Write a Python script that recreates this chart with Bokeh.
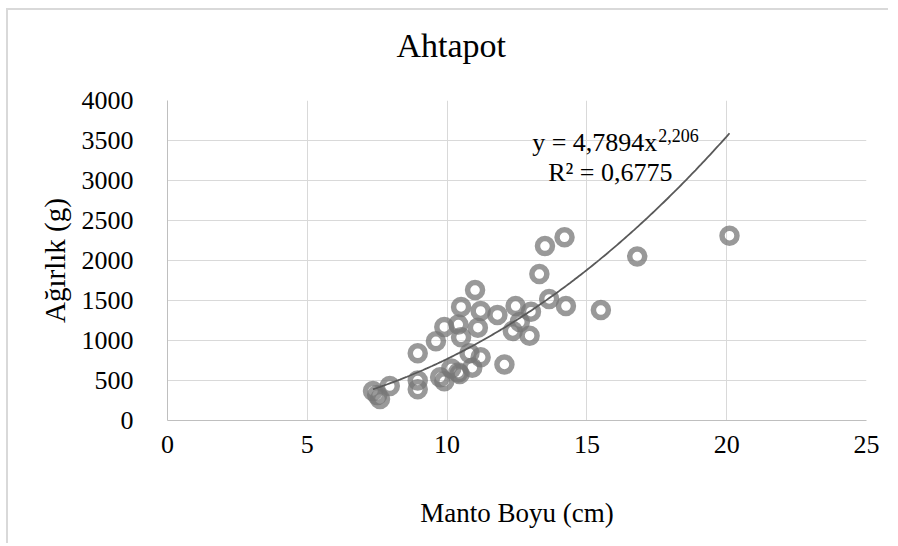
from bokeh.plotting import figure
from bokeh.models import Label, ColumnDataSource, FixedTicker
from bokeh.embed import file_html
from bokeh.resources import INLINE
import numpy as np

# Data
manto_boyu = [20.1, 16.8, 15.5, 14.2, 13.5, 13.3, 13.65, 14.25, 12.45, 13.0,
              11.0, 10.5, 11.2, 11.8, 12.6, 12.35, 12.95, 9.9, 10.4, 11.1,
              10.5, 9.6, 8.95, 10.8, 11.2, 12.05, 10.9, 10.45, 10.15, 9.9,
              9.75, 8.95, 8.95, 7.95, 7.35, 7.6, 7.5, 10.4]
agirlik = [2310, 2050, 1380, 2290, 2180, 1830, 1520, 1430, 1430, 1360,
           1630, 1420, 1370, 1320, 1230, 1120, 1060, 1170, 1200, 1160,
           1040, 990, 840, 840, 790, 700, 660, 580, 650, 490,
           540, 500, 390, 430, 370, 270, 320, 600]

# Power trendline stated on the chart: y = 4,7894 x^2,206
trend_a = 4.7894
trend_b = 2.206
trend_x_start = 7.35
trend_x_end = 20.1

x_ticks = [0, 5, 10, 15, 20, 25]
y_ticks = [0, 500, 1000, 1500, 2000, 2500, 3000, 3500, 4000]

FONT = "Liberation Serif"
GRID = "#d9d9d9"

p = figure(width=882, height=535, output_backend="svg", toolbar_location=None,
           x_range=(0, 25), y_range=(0, 4000),
           min_border_left=159, min_border_right=24,
           min_border_top=90, min_border_bottom=125)
p.styles = {"margin-left": "6px", "margin-top": "8px",
            "border-left": "2px solid #d9d9d9", "border-top": "2px solid #d9d9d9"}

p.outline_line_color = None
p.background_fill_color = "white"
p.border_fill_color = "white"

p.title.text = "Ahtapot\n "
p.title.align = "left"
p.title.offset = 229
p.title.text_font = FONT
p.title.text_font_size = "34px"
p.title.text_font_style = "normal"
p.title.text_color = "black"
p.title.text_line_height = 1.0
p.title.standoff = 0

for ax in (p.xaxis[0], p.yaxis[0]):
    ax.axis_line_color = "#bfbfbf"
    ax.axis_line_width = 1
    ax.major_tick_line_color = None
    ax.minor_tick_line_color = None
    ax.major_label_text_font = FONT
    ax.major_label_text_font_size = "26px"
    ax.major_label_text_color = "black"
    ax.axis_label_text_font = FONT
    ax.axis_label_text_font_style = "normal"
    ax.axis_label_text_color = "black"

p.xaxis.axis_label_text_font_size = "27px"
p.yaxis.axis_label_text_font_size = "29px"
p.xaxis.ticker = FixedTicker(ticks=x_ticks)
p.yaxis.ticker = FixedTicker(ticks=y_ticks)
p.xaxis.axis_label = "Manto Boyu (cm)"
p.yaxis.axis_label = "Ağırlık (g)"
p.xaxis.major_label_standoff = 9
p.yaxis.major_label_standoff = 28
p.xaxis.axis_label_standoff = 42
p.yaxis.axis_label_standoff = 8

p.xgrid.ticker = FixedTicker(ticks=x_ticks)
p.ygrid.ticker = FixedTicker(ticks=y_ticks)
p.xgrid.grid_line_color = GRID
p.ygrid.grid_line_color = GRID

src = ColumnDataSource(dict(x=manto_boyu, y=agirlik))
p.scatter("x", "y", source=src, marker="circle", size=15, fill_color=None,
          line_color="#777777", line_alpha=0.75, line_width=5.5)

tx = np.linspace(trend_x_start, trend_x_end, 200)
ty = trend_a * tx ** trend_b
p.line(tx, ty, line_color="#595959", line_width=1.8)

p.add_layout(Label(x=17.52, y=3475, text="y = 4,7894x", text_font=FONT,
                   text_font_size="26px", text_align="right",
                   text_baseline="alphabetic", text_color="black"))
p.add_layout(Label(x=17.55, y=3565, text="2,206", text_font=FONT,
                   text_font_size="18px", text_align="left",
                   text_baseline="alphabetic", text_color="black"))
p.add_layout(Label(x=15.84, y=3100, text="R² = 0,6775", text_font=FONT,
                   text_font_size="26px", text_align="center",
                   text_baseline="alphabetic", text_color="black"))

open("out.html", "w").write(file_html(p, INLINE))
